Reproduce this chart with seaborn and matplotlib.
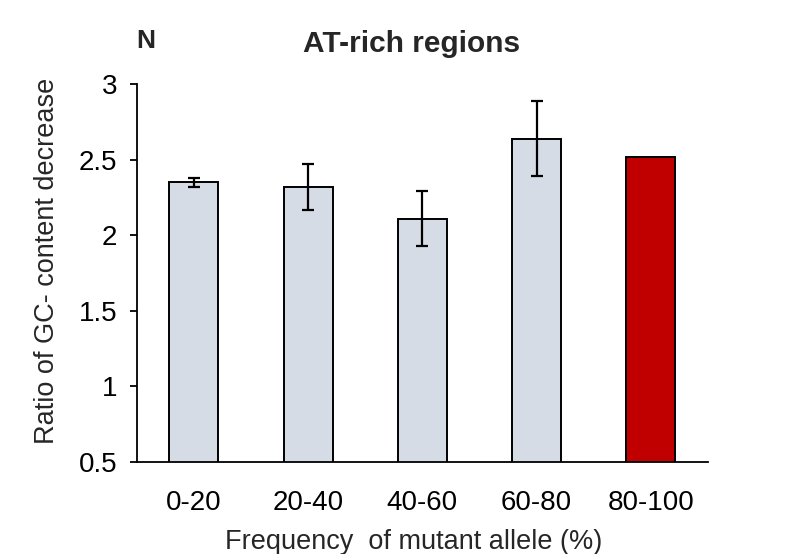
import numpy as np
import matplotlib
matplotlib.use("Agg")
import matplotlib.pyplot as plt
import seaborn as sns

# data
categories = ["0-20", "20-40", "40-60", "60-80", "80-100"]
ratios = [2.35, 2.32, 2.11, 2.64, 2.52]
errors = [0.03, 0.155, 0.18, 0.25, np.nan]
bar_colors = ["#D6DCE5", "#D6DCE5", "#D6DCE5", "#D6DCE5", "#C00000"]
y_ticks = [0.5, 1, 1.5, 2, 2.5, 3]
y_tick_labels = ["0.5", "1", "1.5", "2", "2.5", "3"]


def main():
    sns.set_style("white")
    plt.rcParams["font.family"] = ["Liberation Sans", "DejaVu Sans"]

    fig = plt.figure(figsize=(8, 5.54), dpi=100)
    ax = fig.add_axes([0.171, 0.1666, 0.714, 0.6812])

    sns.barplot(x=categories, y=ratios, hue=categories, palette=bar_colors,
                saturation=1, legend=False, width=0.43, edgecolor="black",
                linewidth=1.4, ax=ax)
    ax.errorbar(np.arange(len(categories)), ratios, yerr=errors, fmt="none",
                ecolor="black", elinewidth=1.6, capsize=4.6, capthick=1.6)

    ax.set_xlim(-0.5, 4.5)
    ax.set_ylim(0.5, 3)
    ax.set_yticks(y_ticks)
    ax.set_yticklabels(y_tick_labels)

    sns.despine(ax=ax)
    for side in ["left", "bottom"]:
        ax.spines[side].set_color("black")
        ax.spines[side].set_linewidth(1.3)

    ax.tick_params(axis="y", which="both", left=True, length=5, width=1.3,
                   pad=9, labelsize=20, colors="black")
    ax.tick_params(axis="x", bottom=False, pad=17, labelsize=20,
                   colors="black")

    ax.set_xlabel("Frequency  of mutant allele (%)", fontsize=19.5)
    ax.set_ylabel("Ratio of GC- content decrease", fontsize=19.5)
    ax.xaxis.set_label_coords(0.485, -0.178)
    ax.yaxis.set_label_coords(-0.134, 0.533)

    fig.text(412, 554 - 52, "AT-rich regions", transform=None,
             ha="center", va="baseline", fontsize=21.5, fontweight="bold")
    fig.text(136, 554 - 48, "N", transform=None, ha="left",
             va="baseline", fontsize=19, fontweight="bold")

    fig.savefig("out.png", dpi=100)
    plt.close(fig)


if __name__ == "__main__":
    main()
